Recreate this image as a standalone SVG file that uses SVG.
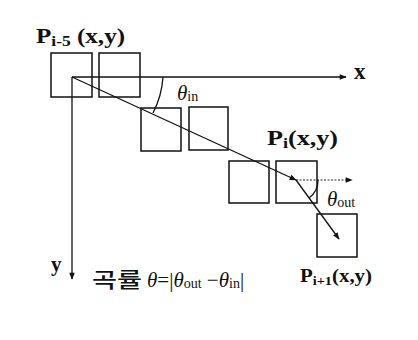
<svg xmlns="http://www.w3.org/2000/svg" width="418" height="340" viewBox="0 0 418 340">
<style>
.box{fill:none;stroke:#111;stroke-width:1.5}
.ln{fill:none;stroke:#111;stroke-width:1.3}
.dash{fill:none;stroke:#222;stroke-width:1.2;stroke-dasharray:2,1.5}
.lbl{font-family:"Liberation Serif",serif;font-weight:bold;fill:#111}
.th{font-family:"Liberation Serif",serif;fill:#111}
.ko{font-family:"Noto Sans CJK KR",sans-serif;font-weight:500;fill:#111}
</style>
<defs>
<marker id="ah" viewBox="0 0 10 10" refX="9" refY="5" markerWidth="9" markerHeight="7" orient="auto" markerUnits="userSpaceOnUse">
<path d="M0,1 L10,5 L0,9 z" fill="#111"/>
</marker>
</defs>
<rect width="418" height="340" fill="#fff"/>
<g id="cells">
<rect id="c1" class="box" x="51" y="53" width="41" height="44"/>
<rect id="c2" class="box" x="99" y="53" width="41" height="44"/>
<rect id="c3" class="box" x="141" y="108" width="40" height="43"/>
<rect id="c4" class="box" x="189" y="107" width="39" height="43"/>
<rect id="c5" class="box" x="229" y="161" width="40" height="42"/>
<rect id="c6" class="box" x="276" y="161" width="41" height="42"/>
<rect id="c7" class="box" x="317" y="214" width="40" height="43"/>
</g>
<g id="connectors">
<line class="ln" x1="72" y1="77" x2="346" y2="77" marker-end="url(#ah)"/>
<line class="ln" x1="72" y1="77" x2="72" y2="279" marker-end="url(#ah)"/>
<line class="ln" x1="72" y1="77" x2="296" y2="180" marker-end="url(#ah)"/>
<line class="ln" x1="296" y1="180" x2="339" y2="239" marker-end="url(#ah)"/>
<line class="dash" x1="296" y1="180" x2="352" y2="180" marker-end="url(#ah)"/>
<path class="ln" d="M163,77 A91,91 0 0 1 153,113" stroke-width="2"/>
<path class="ln" d="M318,180 A22,22 0 0 1 309,198" stroke-width="2"/>
</g>
<g id="labels">
<text class="lbl" x="36" y="43" font-size="20" textLength="89" lengthAdjust="spacingAndGlyphs">P<tspan font-size="14" dy="3">i-5</tspan><tspan dy="-3"> (x,y)</tspan></text>
<text class="lbl" x="354" y="79" font-size="23">x</text>
<text class="lbl" x="51" y="271" font-size="21">y</text>
<text class="th" x="177" y="100" font-size="21"><tspan font-style="italic">θ</tspan><tspan font-size="14" dy="1">in</tspan></text>
<text class="lbl" x="267" y="145" font-size="20" textLength="71" lengthAdjust="spacingAndGlyphs">P<tspan font-size="14" dy="3">i</tspan><tspan dy="-3">(x,y)</tspan></text>
<text class="th" x="327" y="206" font-size="21"><tspan font-style="italic">θ</tspan><tspan font-size="14" dy="1">out</tspan></text>
<text class="lbl" x="300" y="282" font-size="19" textLength="72" lengthAdjust="spacingAndGlyphs">P<tspan font-size="13" dy="3">i+1</tspan><tspan dy="-3">(x,y)</tspan></text>
<text class="ko" x="92" y="287" font-size="21" textLength="50" lengthAdjust="spacingAndGlyphs">곡률</text>
<text class="th" x="147" y="287" font-size="21"><tspan font-style="italic">θ</tspan>=|<tspan font-style="italic">θ</tspan><tspan font-size="14" dy="1">out</tspan><tspan dy="-1"> −</tspan><tspan font-style="italic">θ</tspan><tspan font-size="14" dy="1">in</tspan><tspan dy="-1">|</tspan></text>
</g>
</svg>
